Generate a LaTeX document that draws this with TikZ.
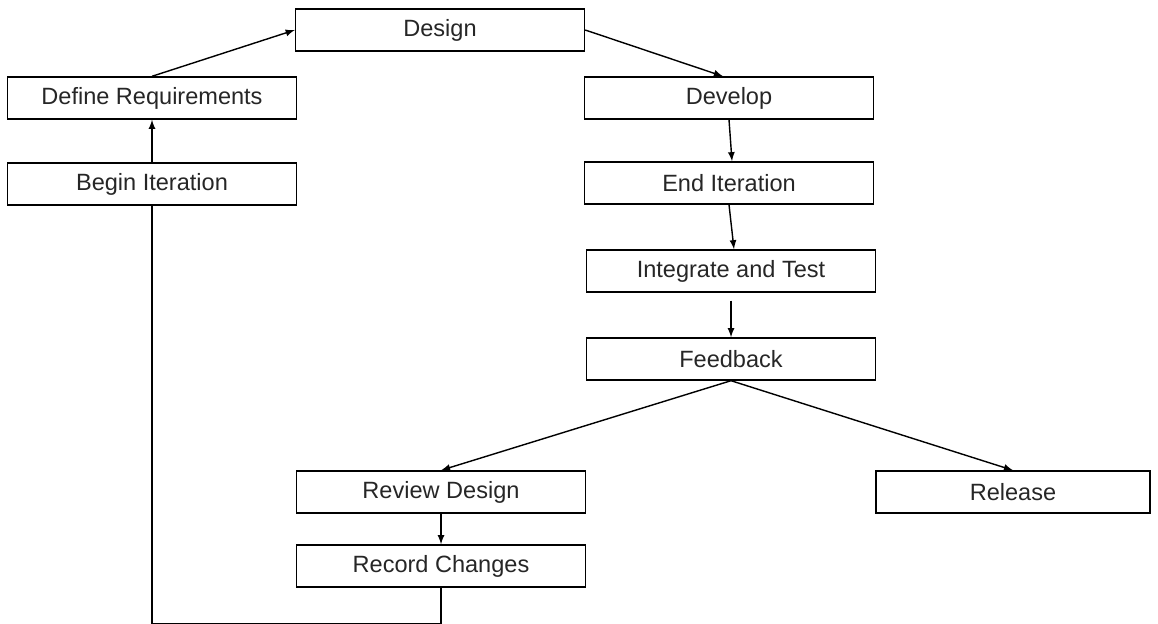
\documentclass[tikz,border=0pt]{standalone}
\usepackage{fontspec}
\setmainfont{Liberation Sans}
\usepackage{tikz}
\usetikzlibrary{arrows}

\tikzset{
    box/.style={draw, line width=0.8pt, minimum width=5.78cm, minimum height=0.84cm,
        inner sep=0pt, font=\fontsize{13.4}{16}\selectfont, text=black!85},
    link/.style={-latex, line width=0.8pt}
}

\begin{document}
\begin{tikzpicture}[x=0.02cm, y=-0.02cm]
            \useasboundingbox (0,0) rectangle (1158,624);

            \node[box] at (440,30) (Design) {Design};
            \node[box] at (152,98) (DefReq) {Define Requirements};
            \node[box] at (152,184) (BeginIt) {Begin Iteration};
            \node[box] at (729,98) (Develop) {Develop};
            \node[box] at (729,183) (EndIt) {End Iteration};
            \node[box] at (731,271) (IntTest) {Integrate and Test};
            \node[box] at (731,359) (Feedback) {Feedback};
            \node[box] at (441,492) (Review) {Review Design};
            \node[box, minimum width=5.48cm] at (1013,492) (Release) {Release};
            \node[box] at (441,566) (Record) {Record Changes};

            \draw[link] (BeginIt) -- (DefReq);
            \draw[link] (DefReq.north) -- (Design.west);
            \draw[link] (Design.east) -- ([xshift=-0.12cm]Develop.north);
            \draw[link] (Develop.south) -- ([xshift=0.06cm]EndIt.north);
            \draw[link] (EndIt.south) -- ([xshift=0.06cm]IntTest.north);
            \draw[link] ([yshift=-0.16cm]IntTest.south) -- (Feedback.north);
            \draw[link] (Feedback.south) -- (Review.north);
            \draw[link] (Feedback.south) -- (Release.north);
            \draw[link] (Review) -- (Record);
            \draw[line width=0.8pt] (Record.south) -- ++(0,36) -| (BeginIt.south);
        \end{tikzpicture}
\end{document}
